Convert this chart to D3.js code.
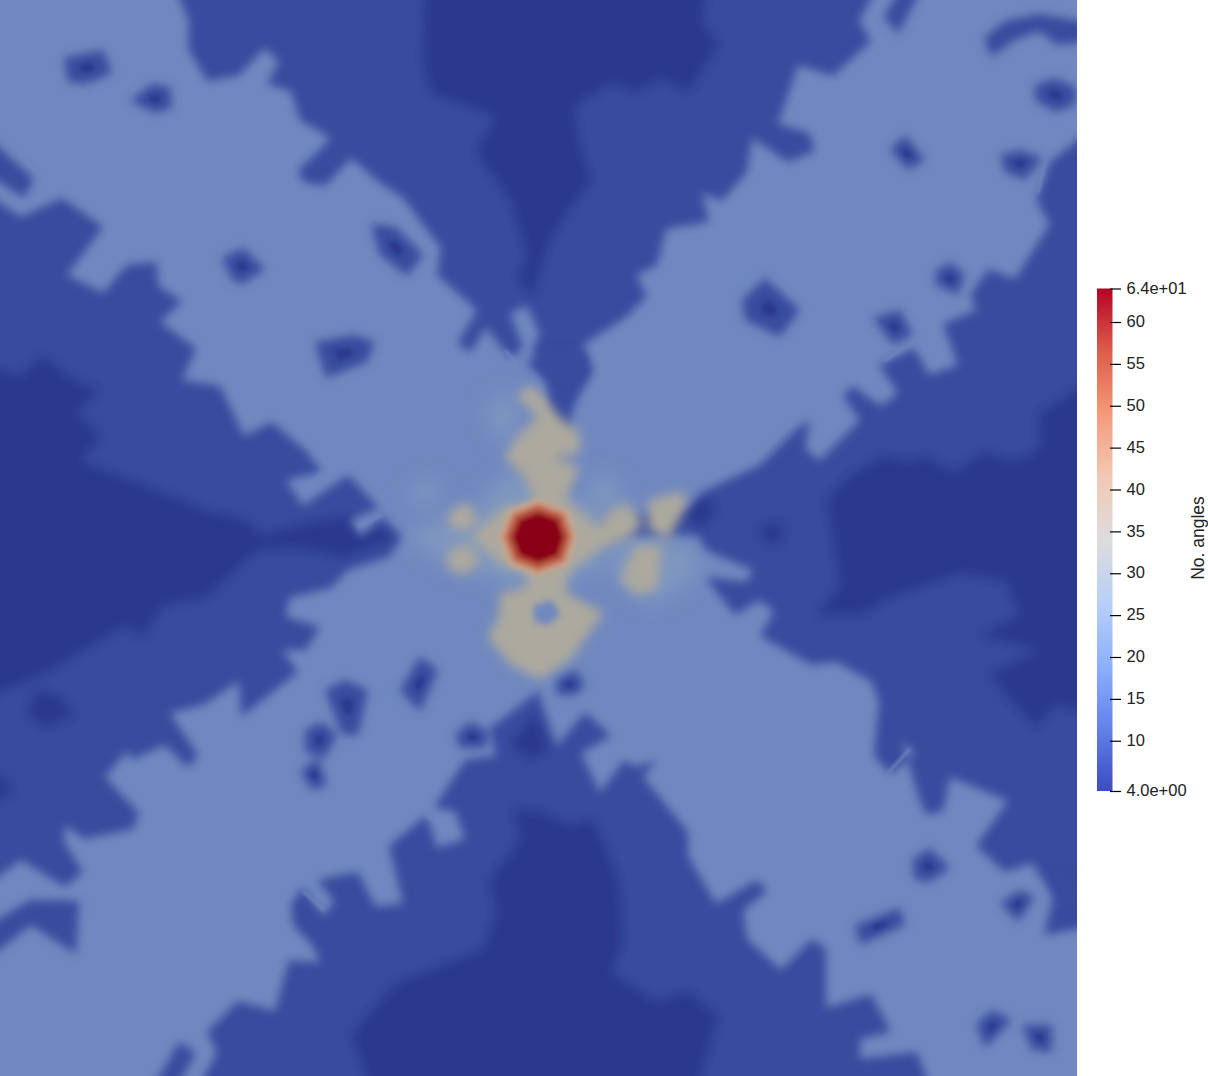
<!DOCTYPE html>
<html><head><meta charset="utf-8">
<style>html,body{margin:0;padding:0;background:#fff;overflow:hidden}svg{display:block}text{font-family:"Liberation Sans",Arial,sans-serif}</style>
<script src="https://cdn.jsdelivr.net/npm/d3@7/dist/d3.min.js"></script>
</head><body>
<script>
// ----- colour bar -----
const colorbarTitle = "No. angles";
const valueMin = 4, valueMax = 64;
const colorbarTicks = [10,15,20,25,30,35,40,45,50,55,60];
const colorbarStops = [4,11.5,19,26.5,34,41.5,49,56.5,64];
const colorbarColors = ["#3b4cc0","#6282ea","#8db0fe","#b8cff8","#dddcdc","#f2c9b4","#f49a7b","#dc5d4a","#b40426"];
// ----- shading of the field -----
const fieldLevels = [4,8,18,24,36,42,50,56,64];
const fieldColors = ["#2c388e","#384c9e","#6f88bf","#7f97bf","#aca99f","#c4a48f","#c77c60","#b04a38","#8a0017"];
// ----- iso-regions (x, y in mesh units) -----
const darkNorth = [[424,-20],[423,60],[430,93],[496,117],[475,152],[510,200],[527,255],[517,279],[532,300],[550,241],[574,203],[592,182],[581,148],[574,107],[612,83],[636,93],[660,79],[688,93],[719,45],[702,21],[709,-20]];
const darkWest = [[-20,365],[21,375],[41,355],[79,382],[100,389],[77,413],[103,437],[81,461],[138,482],[207,510],[248,520],[262,535],[296,525],[350,515],[398,537],[345,558],[296,548],[262,550],[255,553],[207,598],[165,605],[141,639],[127,625],[45,674],[-20,701]];
const darkEast = [[1097,389],[1077,389],[1039,413],[1039,448],[1015,461],[984,451],[953,472],[926,455],[908,461],[884,455],[850,475],[826,499],[833,540],[840,585],[815,615],[864,615],[884,601],[919,588],[960,574],[1005,581],[1019,615],[977,636],[1040,650],[988,674],[1036,729],[1056,705],[1097,715]];
const darkSouth = [[513,808],[520,839],[489,880],[496,915],[482,949],[393,984],[351,1035],[372,1096],[695,1096],[719,1015],[688,991],[657,1001],[612,973],[623,942],[619,880],[609,853],[592,818],[571,825],[540,811]];
const darkPatches = [
  [[35,690],[60,695],[75,715],[45,728],[25,715]],
  [[510,745],[535,712],[550,750],[530,760]],
  [[683,512],[705,495],[718,510],[700,530]],
  [[1050,420],[1097,385],[1097,470],[1060,450]],
  [[760,525],[785,522],[780,545],[762,542]],
  [[-20,770],[0,775],[15,790],[-20,810]]
];
const armNW = [[172,-20],[189,21],[188,48],[207,81],[238,76],[265,48],[279,62],[267,84],[291,91],[300,120],[331,138],[318,152],[298,170],[303,182],[325,186],[351,158],[379,182],[403,198],[441,248],[437,275],[477,310],[458,343],[470,353],[486,327],[510,358],[523,348],[510,313],[527,306],[540,334],[532,350],[548,380],[538,537],[403,537],[382,516],[361,537],[350,520],[379,508],[348,475],[303,506],[286,480],[322,472],[306,451],[272,422],[244,436],[220,386],[182,380],[196,348],[160,322],[182,301],[158,286],[157,262],[127,265],[103,293],[67,275],[103,227],[62,198],[21,217],[-20,190],[-20,-20]];
const armNE = [[538,537],[574,406],[592,372],[583,345],[626,317],[647,296],[636,275],[657,265],[666,229],[709,222],[702,193],[722,201],[747,172],[752,138],[788,162],[815,151],[809,133],[778,124],[798,65],[833,76],[871,41],[859,21],[881,-20],[1097,-20],[1097,125],[1050,162],[1036,200],[1050,224],[1015,279],[988,269],[970,296],[977,310],[943,324],[958,365],[929,375],[914,348],[879,365],[898,393],[881,406],[852,386],[843,396],[860,420],[819,461],[805,448],[810,420],[795,430],[760,465],[702,492],[688,506]];
const armSW = [[538,537],[403,537],[389,557],[348,570],[331,588],[289,598],[286,617],[320,627],[306,650],[282,650],[298,672],[241,717],[239,681],[203,705],[170,713],[198,755],[188,768],[165,745],[131,760],[128,750],[105,777],[139,813],[133,829],[84,839],[65,825],[64,842],[83,872],[65,887],[21,860],[-20,890],[-20,1096],[193,1096],[217,1053],[207,1032],[238,1001],[275,1011],[289,960],[320,963],[313,946],[293,925],[291,904],[303,887],[324,916],[334,901],[317,880],[358,872],[375,906],[403,904],[389,846],[427,815],[437,848],[465,839],[455,811],[434,808],[465,760],[496,756],[489,729],[540,690]];
const armSE = [[538,537],[698,536],[705,550],[753,570],[747,582],[705,577],[735,615],[760,600],[774,612],[760,636],[812,665],[836,662],[871,681],[879,701],[874,756],[891,774],[915,753],[902,741],[919,798],[926,815],[943,811],[950,777],[1008,801],[976,846],[1005,872],[1032,863],[1053,897],[1044,935],[1097,925],[1097,1096],[933,1096],[917,1052],[860,1059],[860,1039],[891,1032],[871,994],[826,1008],[826,949],[812,939],[781,970],[747,939],[743,911],[767,891],[757,880],[716,904],[688,856],[688,832],[643,777],[657,760],[635,767],[624,760],[600,793],[581,753],[611,736],[585,712],[557,746],[540,698],[540,690]];
const midBands = [
  [[984,38],[1005,21],[1039,14],[1097,24],[1097,40],[1057,45],[1039,31],[1015,40],[991,57]],
  [[884,17],[905,-20],[926,-20],[898,34]],
  [[-20,130],[34,179],[24,198],[-20,170]],
  [[-20,930],[30,900],[79,901],[76,954],[31,925],[-20,965]],
  [[148,1096],[179,1042],[196,1053],[172,1096]],
  [[1053,870],[1060,900],[1097,925],[1097,895]],
  [[525,362],[548,352],[585,352],[590,372],[562,395]]
];
const lightSlivers = [
  [[427,815],[451,836]],[[303,891],[325,911]],[[-5,917],[65,891]],[[186,1076],[203,1053]],
  [[888,773],[910,749]],[[303,492],[324,472]],[[358,527],[382,515]],[[884,361],[915,341]],
  [[1046,158],[1038,193]],[[967,272],[957,296]],[[538,680],[560,708]],[[505,350],[540,388]]
];
const stars = [
  [[64,58],[103,50],[112,73],[87,84],[68,82]],
  [[130,101],[152,84],[170,87],[172,108],[155,113]],
  [[222,258],[243,248],[265,269],[243,284],[232,280]],
  [[371,224],[396,227],[423,255],[407,276],[380,255]],
  [[315,342],[354,335],[375,342],[367,362],[326,378]],
  [[1035,85],[1055,78],[1077,88],[1075,105],[1055,112],[1035,100]],
  [[890,150],[905,135],[925,160],[908,170]],
  [[1000,155],[1020,150],[1043,158],[1025,180],[1005,172]],
  [[935,272],[950,262],[965,275],[958,295],[936,285]],
  [[873,318],[900,310],[913,335],[893,345]],
  [[742,300],[765,278],[800,310],[780,337],[745,320]],
  [[400,690],[420,657],[438,670],[420,712]],
  [[325,690],[345,680],[368,690],[358,735],[342,735]],
  [[305,730],[322,722],[337,735],[325,758],[305,752]],
  [[300,772],[318,757],[327,785],[312,790]],
  [[455,735],[470,722],[490,732],[485,748],[460,748]],
  [[912,860],[930,848],[950,868],[930,882],[915,880]],
  [[855,925],[900,908],[905,925],[860,945]],
  [[1000,903],[1020,890],[1035,897],[1018,922]],
  [[976,1025],[992,1010],[1012,1020],[985,1048]],
  [[1022,1025],[1052,1025],[1052,1052],[1032,1050]],
  [[556,680],[575,670],[585,685],[575,695],[557,695]]
];
const paleHalos = [
  [[412,490],[428,478],[442,490],[430,505],[414,503]],
  [[405,537],[440,520],[480,520],[500,580],[450,565],[420,548]],
  [[490,400],[515,395],[515,440],[500,440],[488,420]],
  [[590,478],[612,478],[625,500],[605,515],[590,500]],
  [[610,570],[640,600],[660,600],[700,575],[690,545],[610,540]],
  [[480,500],[510,470],[600,510],[600,570],[520,590],[470,560]]
];
const tanCore = [[527,385],[540,392],[560,417],[580,433],[580,453],[557,458],[580,467],[566,498],[575,507],[598,525],[612,508],[628,503],[643,523],[630,538],[602,548],[569,573],[566,592],[604,613],[570,660],[540,680],[510,665],[487,637],[498,620],[500,593],[527,587],[527,573],[503,567],[470,537],[503,507],[534,503],[524,477],[504,457],[517,437],[537,417],[517,397]];
const tanBlobs = [
  [[450,510],[468,502],[479,520],[465,532],[448,526]],
  [[448,552],[468,543],[480,562],[465,575],[447,569]],
  [[648,500],[682,491],[687,505],[668,540],[648,529]],
  [[635,545],[662,545],[657,589],[637,595],[620,581]]
];
const southHole = [[533,606],[552,600],[560,615],[548,625],[535,622]];
const peakOctagon = [[538,513],[557,520],[563,537],[557,555],[538,562],[520,555],[513,537],[520,520]];
const peakRings = [[1.6,42],[1.4,50],[1.22,56],[1,64]];

const W = 1208, H = 1076, plotW = 1077, plotH = 1076;
const x = d3.scaleLinear().domain([0,1077]).range([0,plotW]);
const y = d3.scaleLinear().domain([0,1076]).range([0,plotH]);
const fieldColor = d3.scaleLinear().domain(fieldLevels).range(fieldColors);
const path = d3.line().x(d=>x(d[0])).y(d=>y(d[1])).curve(d3.curveLinearClosed);
const shrink = (poly,k)=>{const c=d3.polygonCentroid(poly);return poly.map(p=>[c[0]+(p[0]-c[0])*k,c[1]+(p[1]-c[1])*k]);};

const svg = d3.select("body").append("svg").attr("width",W).attr("height",H);
const defs = svg.append("defs");
defs.append("clipPath").attr("id","plot").append("rect").attr("width",plotW).attr("height",plotH);
const blur = (id,s)=>defs.append("filter").attr("id",id).attr("filterUnits","userSpaceOnUse")
  .attr("x",-60).attr("y",-60).attr("width",plotW+120).attr("height",plotH+120)
  .append("feGaussianBlur").attr("stdDeviation",s);
[["b1",1.5],["b2",2.2],["b3",3.2],["b4",4.6],["b5",5.5],["b6",6],["b10",10]].forEach(b=>blur(b[0],b[1]));

const plot = svg.append("g").attr("clip-path","url(#plot)");
function layer(filter, items){
  plot.append("g").attr("filter",`url(#${filter})`).selectAll("path").data(items).join("path")
    .attr("d",d=>path(d.poly)).attr("fill",d=>fieldColor(d.value));
}
const bg = [[-30,-30],[1107,-30],[1107,1106],[-30,1106]];
const val = (list,value)=>list.map(poly=>({poly,value}));
layer("b6",[...val([bg],8),...val([darkNorth,darkWest,darkEast,darkSouth,...darkPatches],4)]);
layer("b4",val([armNW,armNE,armSW,armSE],18));
plot.append("g").attr("filter","url(#b1)").selectAll("path").data(lightSlivers).join("path")
  .attr("d",d3.line().x(d=>x(d[0])).y(d=>y(d[1]))).attr("fill","none")
  .attr("stroke",fieldColor(18)).attr("stroke-width",2.5);
layer("b4",val([...midBands,...stars],8));
layer("b2",val(stars.map(s=>shrink(s,0.3)),4));
layer("b10",val(paleHalos,24));
layer("b5",val([tanCore,...tanBlobs],36));
layer("b3",val([southHole],18));
layer("b2",peakRings.map(([k,value])=>({poly:shrink(peakOctagon,k),value})));

// ----- colour bar -----
const barX = 1097, barW = 15.5, barTop = 288.5, barBottom = 791;
const cb = d3.scaleLinear().domain([valueMin,valueMax]).range([barBottom,barTop]);
const grad = defs.append("linearGradient").attr("id","cbar").attr("x1",0).attr("x2",0).attr("y1",1).attr("y2",0);
grad.selectAll("stop").data(colorbarStops).join("stop")
  .attr("offset",d=>(d-valueMin)/(valueMax-valueMin)).attr("stop-color",(d,i)=>colorbarColors[i]);
svg.append("rect").attr("x",barX).attr("y",barTop).attr("width",barW).attr("height",barBottom-barTop).attr("fill","url(#cbar)");
const axis = d3.axisRight(cb)
  .tickValues([valueMin,...colorbarTicks,valueMax])
  .tickSize(11).tickPadding(6)
  .tickFormat(d=>(d===valueMin||d===valueMax)?d3.format(".1e")(d).replace(/e([+-])(\d)$/,"e$10$2"):String(d));
const ax = svg.append("g").attr("transform",`translate(${barX+13},0)`).call(axis);
ax.select(".domain").remove();
ax.selectAll("line").attr("stroke","#000").attr("stroke-width",1.2);
ax.selectAll("text").attr("fill","#222").style("font-size","16.5px").style("font-family",'"Liberation Sans",Arial,sans-serif').attr("x",16.5).attr("dy","0.28em");
svg.append("text").attr("transform",`translate(1204,538) rotate(-90)`).attr("text-anchor","middle")
  .attr("fill","#222").style("font-size","17.5px").text(colorbarTitle);
</script>
</body></html>
